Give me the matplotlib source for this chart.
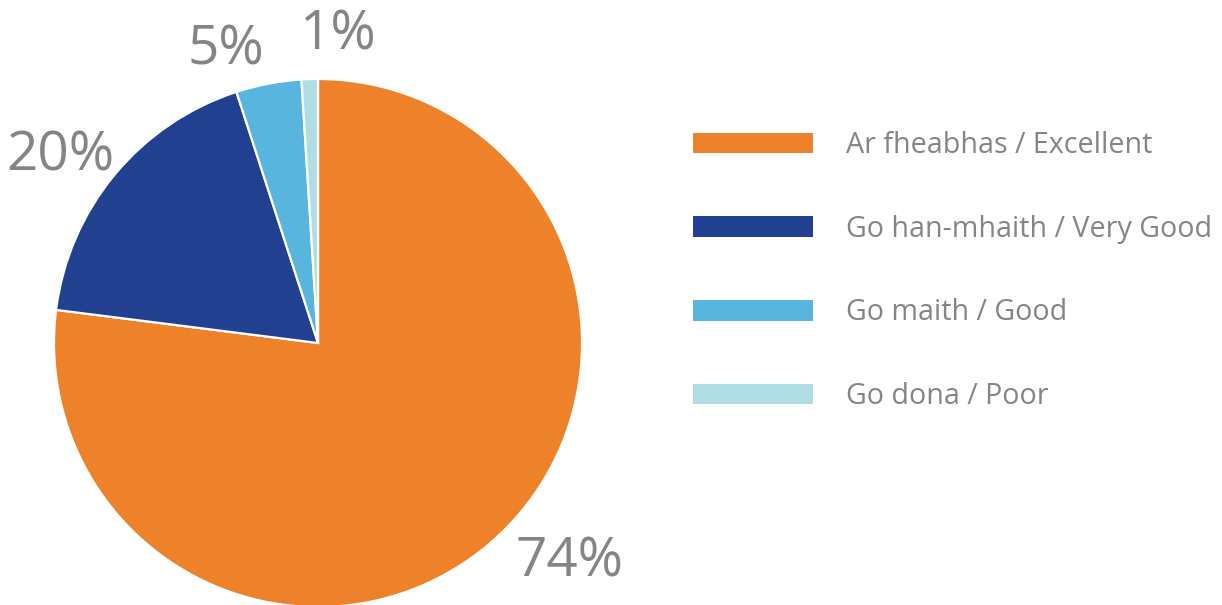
import matplotlib
matplotlib.use("Agg")
import matplotlib.pyplot as plt
from matplotlib.patches import Rectangle

categories = ["Ar fheabhas / Excellent", "Go han-mhaith / Very Good", "Go maith / Good", "Go dona / Poor"]
values = [77, 18, 4, 1]
pct_labels = ["74%", "20%", "5%", "1%"]
colors = ["#ee822b", "#214190", "#58b6de", "#b0dce3"]

W, H = 1222, 605
fig = plt.figure(figsize=(W / 100, H / 100), dpi=100)
ax = fig.add_axes([0, 0, 1, 1])

FONT = "Open Sans"
GRAY = "#848589"

cx, cy, r = 318, 605 - 343, 264
wedges, _ = ax.pie(values, colors=colors, startangle=90, counterclock=False,
                   center=(cx, cy), radius=r, frame=True,
                   wedgeprops=dict(edgecolor="white", linewidth=1.6))
ax.set_xlim(0, W)
ax.set_ylim(0, H)
ax.set_aspect("equal")
ax.axis("off")

label_pos = [(570, 605 - 562), (60, 605 - 156), (226, 605 - 50), (337, 605 - 35)]
for txt, (x, y) in zip(pct_labels, label_pos):
    ax.text(x, y, txt, ha="center", va="center", fontsize=39.5, color=GRAY,
            family=FONT)

handles = [Rectangle((0, 0), 1, 1, facecolor=c, edgecolor="none") for c in colors]
leg = ax.legend(handles, categories, loc="upper left",
                bbox_to_anchor=(693 / W, 1 - 131 / H),
                frameon=False, prop=dict(family=FONT, size=20.6),
                handlelength=4.2, handleheight=0.73, handletextpad=1.15,
                labelspacing=1.91, borderaxespad=0, borderpad=0)
for t in leg.get_texts():
    t.set_color(GRAY)

fig.savefig("out.png", dpi=100, facecolor="white")
